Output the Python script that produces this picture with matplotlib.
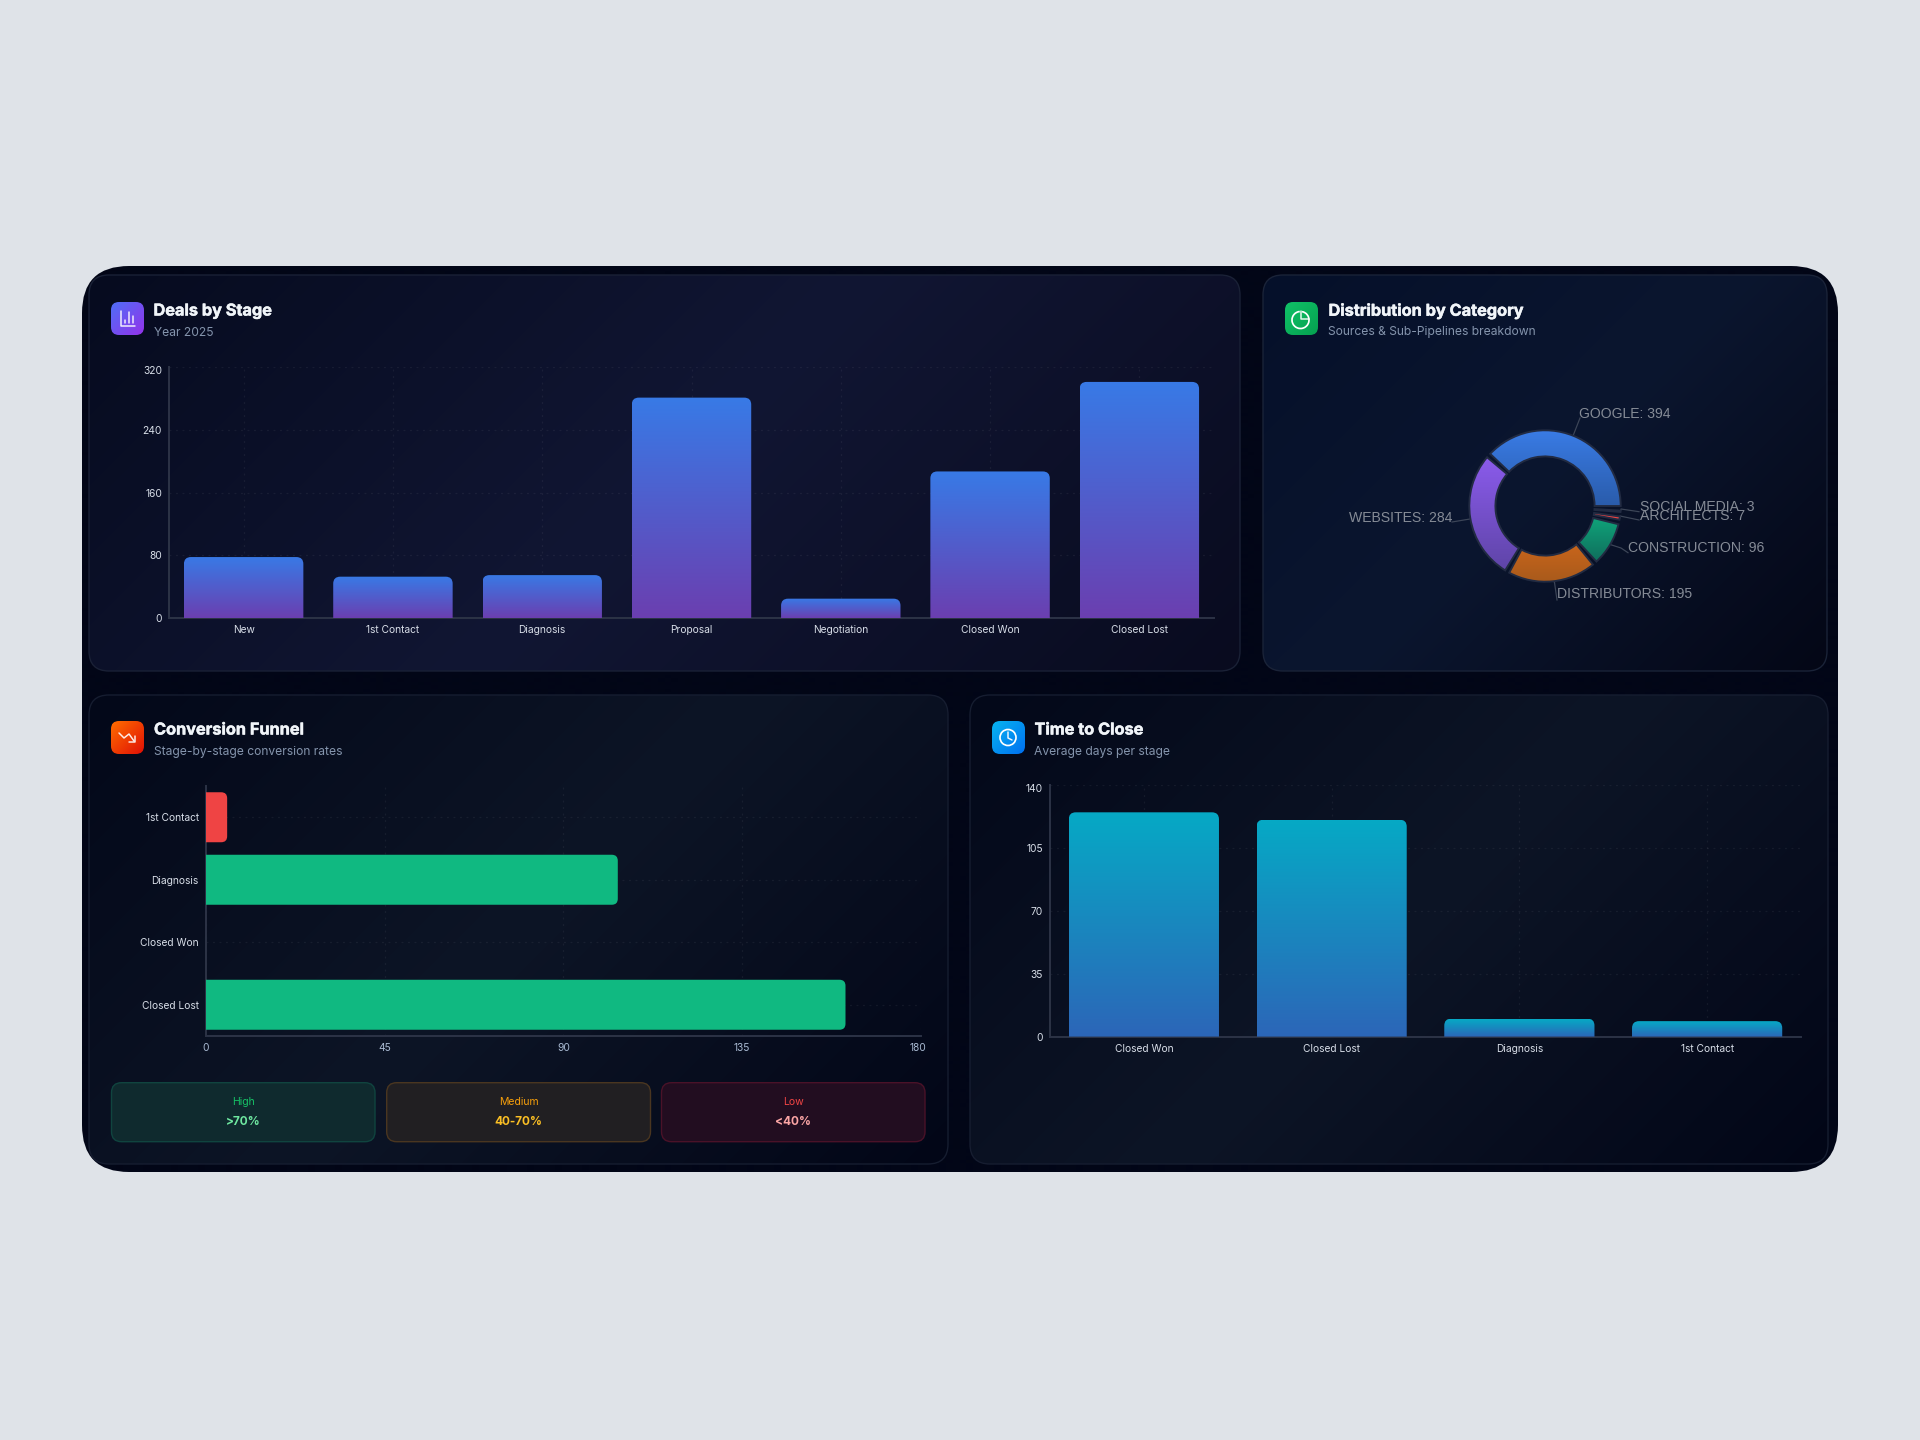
import numpy as np
import matplotlib
matplotlib.use("Agg")
import matplotlib.pyplot as plt
import matplotlib.patheffects as pe
from matplotlib.patches import FancyBboxPatch, PathPatch, Wedge, Circle, Arc
from matplotlib.path import Path
from matplotlib.colors import to_rgb
from matplotlib.transforms import ScaledTranslation

plt.rcParams['font.family'] = ['Inter', 'DejaVu Sans']

W, H = 1920, 1440
PT = 0.72  # 1 px in points at dpi 100

# ---- data
deal_stages = ["New", "1st Contact", "Diagnosis", "Proposal", "Negotiation", "Closed Won", "Closed Lost"]
deal_values = [78, 53, 55, 281, 25, 187, 301]
deal_ticks = [0, 80, 160, 240, 320]

cat_names = ["GOOGLE", "WEBSITES", "DISTRIBUTORS", "CONSTRUCTION", "ARCHITECTS", "SOCIAL MEDIA"]
cat_values = [394, 284, 195, 96, 7, 3]

funnel_stages = ["1st Contact", "Diagnosis", "Closed Won", "Closed Lost"]
funnel_values = [5.4, 103.7, 0, 161]
funnel_ticks = [0, 45, 90, 135, 180]

close_stages = ["Closed Won", "Closed Lost", "Diagnosis", "1st Contact"]
close_values = [124.8, 120.7, 10, 8.6]
close_ticks = [0, 35, 70, 105, 140]

legend_names = ["High", "Medium", "Low"]
legend_ranges = [">70%", "40-70%", "<40%"]

fig = plt.figure(figsize=(W / 100, H / 100), dpi=100, facecolor="#dfe3e8")
bg = fig.add_axes([0, 0, 1, 1], zorder=0)
bg.set_xlim(0, W)
bg.set_ylim(H, 0)
bg.axis("off")


def gradient_box(l, t, r, b, radius, stops, edge=None, angle=135):
    box = FancyBboxPatch((l, t), r - l, b - t, boxstyle=f"round,pad=0,rounding_size={radius}",
                         fc="none", ec=edge if edge else "none", lw=1.0, zorder=2)
    bg.add_patch(box)
    w, h = int(r - l) + 1, int(b - t) + 1
    a = np.deg2rad(angle - 90)
    yy, xx = np.mgrid[0:h, 0:w]
    d = xx * np.cos(a) + yy * np.sin(a)
    d = (d - d.min()) / (d.max() - d.min())
    rgb = np.array([to_rgb(c) for c in stops])
    pos = np.linspace(0, 1, len(stops))
    img = np.dstack([np.interp(d, pos, rgb[:, i]) for i in range(3)])
    im = bg.imshow(img, extent=[l, r, b, t], aspect="auto", zorder=1, interpolation="bilinear")
    im.set_clip_path(box)
    bg.set_xlim(0, W)
    bg.set_ylim(H, 0)


def axes_px(l, t, r, b):
    ax = fig.add_axes([l / W, 1 - b / H, (r - l) / W, (b - t) / H], zorder=1)
    ax.patch.set_alpha(0)
    return ax


def rounded_path(ax_w, ax_h, x0, x1, y0, y1, xspan, yspan, r_px, horizontal=False):
    rx = r_px * xspan / ax_w
    ry = r_px * yspan / ax_h
    if horizontal:
        # right end rounded, y0 < y1
        rx = min(rx, (x1 - x0))
        verts = [(x0, y0), (x1 - rx, y0), (x1, y0), (x1, y0 + ry), (x1, y1 - ry), (x1, y1), (x1 - rx, y1), (x0, y1), (x0, y0)]
    else:
        ry = min(ry, (y1 - y0))
        verts = [(x0, y0), (x0, y1 - ry), (x0, y1), (x0 + rx, y1), (x1 - rx, y1), (x1, y1), (x1, y1 - ry), (x1, y0), (x0, y0)]
    codes = [Path.MOVETO, Path.LINETO, Path.CURVE3, Path.CURVE3, Path.LINETO, Path.CURVE3, Path.CURVE3, Path.LINETO, Path.CLOSEPOLY]
    return Path(verts, codes)


def style_axes(ax, size=10.2, color="#d8dee8"):
    for s in ["top", "right"]:
        ax.spines[s].set_visible(False)
    for s in ["left", "bottom"]:
        ax.spines[s].set_color("#2c3346")
        ax.spines[s].set_linewidth(1.4)
    ax.tick_params(length=0, labelsize=size * PT, labelcolor=color, pad=7 * PT)
    ax.grid(True, linestyle=(0, (1.5, 3.5)), color="#ffffff", alpha=0.055, linewidth=1.3 * PT)
    ax.set_axisbelow(True)


def gradient_bars(ax, px, names, values, ticks, top, bottom, radius):
    l, t, r, b = px
    xs = np.arange(len(names))
    bars = ax.bar(xs, values, width=0.8, color="none")
    grad = np.linspace(0, 1, 128)[:, None]
    rgb = np.array([np.array(to_rgb(top)) * (1 - g) + np.array(to_rgb(bottom)) * g for g in grad[:, 0]])[:, None, :]
    for rect in bars:
        x0, x1 = rect.get_x(), rect.get_x() + rect.get_width()
        y1 = rect.get_height()
        p = rounded_path(r - l, b - t, x0, x1, 0, y1, len(names), ticks[-1], radius)
        patch = PathPatch(p, fc="none", ec="none", zorder=3)
        ax.add_patch(patch)
        im = ax.imshow(rgb, extent=[x0, x1, 0, y1], aspect="auto", zorder=3, interpolation="bilinear")
        im.set_clip_path(patch)
    ax.set_xlim(-0.5, len(names) - 0.5)
    ax.set_ylim(0, ticks[-1])
    ax.set_xticks(xs, names)
    ax.set_yticks(ticks)
    style_axes(ax)


def header(title, sub, icon_l, top, c1, c2, title_x):
    gradient_box(icon_l, top, icon_l + 33, top + 33, 8, [c1, c2])
    t = bg.text(title_x, top + 9, title, fontsize=16.3 * PT, fontweight="bold", color="#f1f5f9", va="center", ha="left", zorder=5)
    t.set_path_effects([pe.withStroke(linewidth=0.35, foreground="#f1f5f9")])
    bg.text(title_x, top + 30.5, sub, fontsize=12.1 * PT, color="#8494ac", va="center", ha="left", zorder=5)


# ---- page and panels
gradient_box(82, 266, 1838, 1172, 47, ["#020617", "#020617"])
panel_a = ["#060b1f", "#111633", "#090b1f"]
panel_b = ["#05102a", "#0b162f", "#040716"]
panel_c = ["#030819", "#0d1526", "#020617"]
gradient_box(89, 275, 1240, 671, 20, panel_a, edge="#1a2136")
gradient_box(1263, 275, 1827, 671, 20, panel_b, edge="#1a2338")
gradient_box(89, 695, 948, 1164, 20, panel_c, edge="#161d30")
gradient_box(970, 695, 1828, 1164, 20, panel_c, edge="#161d30")

header("Deals by Stage", "Year 2025", 111, 302, "#4f6ef7", "#9333ea", 153.5)
header("Distribution by Category", "Sources & Sub-Pipelines breakdown", 1285, 302, "#10c267", "#05a150", 1328.5)
header("Conversion Funnel", "Stage-by-stage conversion rates", 111, 721, "#ff6d00", "#e01005", 154)
header("Time to Close", "Average days per stage", 992, 721, "#07b4f0", "#0070f0", 1034.5)

# ---- icons
ic = dict(color="white", lw=1.5 * PT, zorder=6, solid_capstyle="round", alpha=0.9)
bg.plot([120.5, 120.5, 135], [311, 326, 326], **ic)
for bx, by in [(124.5, 320), (128.5, 312), (132.5, 316)]:
    bg.plot([bx, bx], [by, 323], **ic)
bg.add_patch(Arc((1300.5, 320), 17, 17, theta1=-80, theta2=265, ec="white", lw=1.7 * PT, zorder=6))
bg.plot([1301, 1301, 1309], [311, 319, 319], **ic)
bg.plot([119, 124, 129, 134], [733, 738, 734, 741], **ic)
bg.plot([129, 135, 135], [742, 742, 736], **ic)
bg.add_patch(Circle((1008, 737.5), 8, fc="none", ec="white", lw=1.7 * PT, zorder=6))
bg.plot([1008, 1008, 1012], [732, 738, 740], **ic)

# ---- deals by stage
px = (169, 367, 1214, 618.3)
ax1 = axes_px(*px)
gradient_bars(ax1, px, deal_stages, deal_values, deal_ticks, "#387ae6", "#6b3fb0", 7)

# ---- time to close
px = (1050, 785, 1801, 1036.6)
ax4 = axes_px(*px)
gradient_bars(ax4, px, close_stages, close_values, close_ticks, "#06a9c5", "#2c66b8", 7)

# ---- conversion funnel
px = (205.7, 786, 921, 1036)
ax3 = axes_px(*px)
ys = np.arange(len(funnel_stages))
ax3.barh(ys, funnel_values, height=0.8, color="none")
for y, v in zip(ys, funnel_values):
    if v <= 0:
        continue
    col = "#ef4444" if v < 40 else "#10b981"
    p = rounded_path(px[2] - px[0], px[3] - px[1], 0, v, y - 0.4, y + 0.4, 180, len(ys), 6, horizontal=True)
    ax3.add_patch(PathPatch(p, fc=col, ec="none", zorder=3))
ax3.set_xlim(0, 180)
ax3.set_ylim(len(ys) - 0.5, -0.5)
ax3.set_xticks(funnel_ticks)
ax3.set_yticks(ys, funnel_stages)
style_axes(ax3)
ax3.tick_params(axis="x", labelcolor="#a9bad2")
last = ax3.get_xticklabels()[-1]
last.set_transform(last.get_transform() + ScaledTranslation(-3 / 100, 0, fig.dpi_scale_trans))

for ax in (ax1, ax4):
    last = ax.get_yticklabels()[-1]
    last.set_transform(last.get_transform() + ScaledTranslation(0, -3 / 100, fig.dpi_scale_trans))

# ---- funnel legend boxes
box_px = [(111.5, 375), (386.7, 650.5), (661.5, 925)]
box_bg = ["#0f2a2e", "#211f22", "#220d20"]
box_ec = ["#10443f", "#4a3620", "#4a1228"]
name_col = ["#16c266", "#f59e0b", "#ef4444"]
range_col = ["#6ee7a0", "#fbbf24", "#fca5a5"]
for (l, r), fc, ec, name, rng, c1, c2 in zip(box_px, box_bg, box_ec, legend_names, legend_ranges, name_col, range_col):
    bg.add_patch(FancyBboxPatch((l, 1082.7), r - l, 59, boxstyle="round,pad=0,rounding_size=10", fc=fc, ec=ec, lw=1, zorder=3))
    bg.text((l + r) / 2, 1101.7, name, fontsize=10.5 * PT, color=c1, ha="center", va="center", zorder=5)
    bg.text((l + r) / 2, 1122, rng, fontsize=11.8 * PT, color=c2, fontweight="bold", ha="center", va="center", zorder=5)

# ---- donut
cx, cy, R = 1545, 506, 75.7
ax2 = axes_px(cx - R, cy - R, cx + R, cy + R)
ax2.set_xlim(-1, 1)
ax2.set_ylim(-1, 1)
ax2.axis("off")
cat_top = ["#3a7ce6", "#8b5bec", "#e8701a", "#10b081", "#ef4444", "#2b3648"]
cat_bot = ["#2a5cab", "#5f45a8", "#a85a1c", "#0f6e5c", "#ef4444", "#2b3648"]
gap = 3.5
usable = 360 - gap * len(cat_values)
theta = 0.0
mids = []
for v, c1, c2 in zip(cat_values, cat_top, cat_bot):
    span = v / sum(cat_values) * usable
    t1, t2 = theta, theta + span
    wedge = Wedge((0, 0), 1.0, t1, t2, width=0.345, fc="none", ec="none")
    ax2.add_patch(wedge)
    verts = wedge.get_path().vertices
    y_hi, y_lo = verts[:, 1].max(), verts[:, 1].min()
    g = np.linspace(0, 1, 64)
    rgb = np.array([np.array(to_rgb(c1)) * (1 - a) + np.array(to_rgb(c2)) * a for a in g])[:, None, :]
    im = ax2.imshow(rgb, extent=[-1, 1, y_lo, y_hi], aspect="auto", zorder=2, interpolation="bilinear")
    im.set_clip_path(wedge)
    ax2.add_patch(Wedge((0, 0), 1.0, t1, t2, width=0.345, fc="none", ec="#222b42", lw=1.9 * PT, zorder=3, clip_on=False))
    mids.append((t1 + t2) / 2)
    theta = t2 + gap
ax2.set_xlim(-1, 1)
ax2.set_ylim(-1, 1)

label_xy = [(1579, 413.5), (1452, 518.5), (1557.4, 594.5), (1628, 547.5), (1639.6, 515.5), (1639.6, 507)]
label_ha = ["left", "right", "left", "left", "left", "left"]
leader_mid = [(1580, 418), (1470, 519), (1554.4, 581.7), (1621, 548), (1620, 516), (1621, 509)]
leader_end = [(1580, 418), (1452, 522), (1557, 600), (1628, 552.7), (1639, 520), (1639, 511.7)]
for name, v, mid, xy, ha, m, e in zip(cat_names, cat_values, mids, label_xy, label_ha, leader_mid, leader_end):
    a = np.deg2rad(mid)
    x0, y0 = cx + R * np.cos(a), cy - R * np.sin(a)
    bg.plot([x0, m[0], e[0]], [y0, m[1], e[1]], color="#3d4658", lw=1.2 * PT, zorder=4)
    bg.text(xy[0], xy[1], f"{name}: {v}", fontsize=14 * PT, color="#858b96", ha=ha, va="center",
            family=["Liberation Sans", "DejaVu Sans"], zorder=5)

fig.savefig("out.png", dpi=100, facecolor=fig.get_facecolor())
